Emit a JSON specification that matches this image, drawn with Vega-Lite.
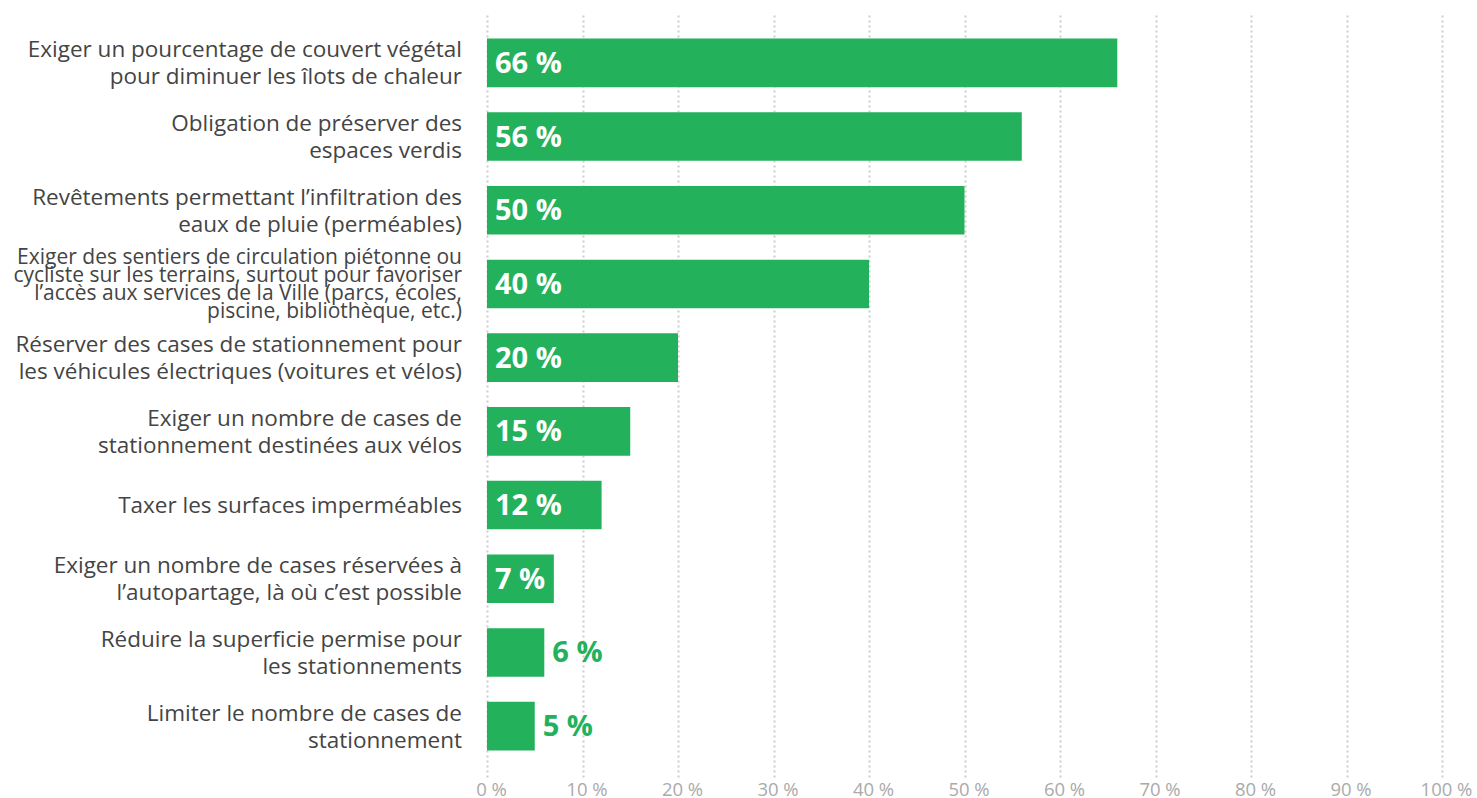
{
  "$schema": "https://vega.github.io/schema/vega-lite/v6.json",
  "autosize": "none",
  "padding": {"left": 487, "top": 12, "right": 35, "bottom": 21},
  "width": 955,
  "height": 765,
  "background": "white",
  "config": {"view": {"stroke": null}, "font": "Open Sans"},
  "data": {"values": [
    {"item": "Exiger un pourcentage de couvert végétal\npour diminuer les îlots de chaleur", "value": 66},
    {"item": "Obligation de préserver des\nespaces verdis", "value": 56},
    {"item": "Revêtements permettant l’infiltration des\neaux de pluie (perméables)", "value": 50},
    {"item": "Exiger des sentiers de circulation piétonne ou\ncycliste sur les terrains, surtout pour favoriser\nl’accès aux services de la Ville (parcs, écoles,\npiscine, bibliothèque, etc.)", "value": 40},
    {"item": "Réserver des cases de stationnement pour\nles véhicules électriques (voitures et vélos)", "value": 20},
    {"item": "Exiger un nombre de cases de\nstationnement destinées aux vélos", "value": 15},
    {"item": "Taxer les surfaces imperméables", "value": 12},
    {"item": "Exiger un nombre de cases réservées à\nl’autopartage, là où c’est possible", "value": 7},
    {"item": "Réduire la superficie permise pour\nles stationnements", "value": 6},
    {"item": "Limiter le nombre de cases de\nstationnement", "value": 5}
  ]},
  "encoding": {
    "y": {"field": "item", "type": "nominal", "sort": null, "axis": null,
          "scale": {"paddingInner": 0.34, "paddingOuter": 0.36}}
  },
  "layer": [
    {
      "mark": {"type": "bar", "color": "#23b15b"},
      "encoding": {
        "x": {"field": "value", "type": "quantitative",
              "scale": {"domain": [0, 100], "nice": false},
              "axis": {"values": [0,10,20,30,40,50,60,70,80,90,100], "labelExpr": "datum.value + ' %'",
                       "title": null, "domain": false, "ticks": false, "grid": true, "labelFlush": false,
                       "gridColor": "#cccccc", "gridWidth": 2, "gridDash": [2, 3], "labelOffset": 4,
                       "labelColor": "#aaaaaa", "labelFontSize": 18.5, "labelPadding": 3, "labelFont": "Open Sans"}}
      }
    },
    {
      "transform": [{"filter": "datum.value >= 7"}],
      "mark": {"type": "text", "align": "left", "baseline": "middle", "dx": 8, "dy": 1, "fontSize": 29, "fontWeight": "bold", "color": "white", "font": "Open Sans"},
      "encoding": {
        "x": {"datum": 0},
        "text": {"value": {"expr": "datum.value + ' %'"}}
      }
    },
    {
      "transform": [{"filter": "datum.value < 7"}],
      "mark": {"type": "text", "align": "left", "baseline": "middle", "dx": 8, "dy": 1, "fontSize": 29, "fontWeight": "bold", "color": "#23b15b", "font": "Open Sans"},
      "encoding": {
        "x": {"field": "value", "type": "quantitative"},
        "text": {"value": {"expr": "datum.value + ' %'"}}
      }
    },
    {
      "transform": [{"filter": "datum.value != 40 && datum.value != 12"}],
      "mark": {"type": "text", "align": "right", "baseline": "middle", "dx": -25, "dy": -12.5, "fontSize": 22.5, "color": "#444444", "lineBreak": "\n", "lineHeight": 27, "font": "Open Sans"},
      "encoding": {
        "x": {"datum": 0},
        "text": {"field": "item", "type": "nominal"}
      }
    },
    {
      "transform": [{"filter": "datum.value == 12"}],
      "mark": {"type": "text", "align": "right", "baseline": "middle", "dx": -25, "dy": 1, "fontSize": 22.5, "color": "#444444", "font": "Open Sans"},
      "encoding": {
        "x": {"datum": 0},
        "text": {"field": "item", "type": "nominal"}
      }
    },
    {
      "transform": [{"filter": "datum.value == 40"}],
      "mark": {"type": "text", "align": "right", "baseline": "middle", "dx": -25, "dy": -26, "fontSize": 21, "color": "#444444", "lineBreak": "\n", "lineHeight": 18, "font": "Open Sans"},
      "encoding": {
        "x": {"datum": 0},
        "text": {"field": "item", "type": "nominal"}
      }
    }
  ]
}
